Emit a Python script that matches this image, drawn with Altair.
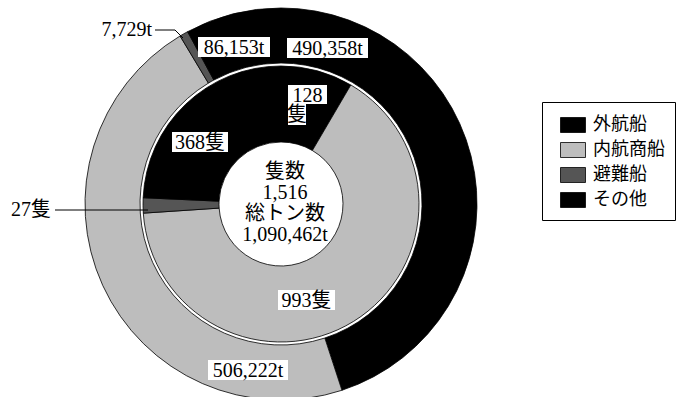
import altair as alt
import pandas as pd

# ---- data ----
categories = ["外航船", "内航商船", "避難船", "その他"]
ship_counts = [128, 993, 27, 368]          # 隻数 (inner ring)
tonnage = [490358, 506222, 7729, 86153]    # 総トン数 (outer ring)
colors = ["#000000", "#bdbdbd", "#555555", "#000000"]

total_ships = sum(ship_counts)
total_tons = sum(tonnage)

FONT = "Liberation Serif, Noto Sans CJK JP"
CX, CY = 281, 204

base = pd.DataFrame({
    "category": categories,
    "count": ship_counts,
    "tonnage": tonnage,
    "order": list(range(len(categories))),
})

color = alt.Color(
    "category:N",
    scale=alt.Scale(domain=categories, range=colors),
    legend=alt.Legend(
        title=None, orient="none", legendX=542, legendY=102,
        symbolType="M-1,-0.6H1V0.6H-1Z", symbolSize=625,
        symbolStrokeColor="black", symbolStrokeWidth=0.8, symbolOpacity=1,
        symbolOffset=8, labelFont=FONT, labelFontSize=18, labelColor="black",
        labelOffset=7, rowPadding=2, padding=10,
        strokeColor="black", fillColor="white",
    ),
)

outer = alt.Chart(base).mark_arc(radius=196, radius2=141, stroke="black", strokeWidth=0.8).encode(
    theta=alt.Theta("tonnage:Q", stack=True),
    color=color,
    order=alt.Order("order:Q"),
    x=alt.value(CX), y=alt.value(CY),
)
inner = alt.Chart(base).mark_arc(radius=138, radius2=62, stroke="black", strokeWidth=0.8).encode(
    theta=alt.Theta("count:Q", stack=True),
    color=alt.Color("category:N", scale=alt.Scale(domain=categories, range=colors), legend=None),
    order=alt.Order("order:Q"),
    x=alt.value(CX), y=alt.value(CY),
)

# ---- labels with white boxes (layout) ----
t = dict(zip(categories, tonnage))
c = dict(zip(categories, ship_counts))
boxed = pd.DataFrame([
    {"text": f"{t['その他']:,}t", "x": 198, "x2": 270, "y": 37, "y2": 57},
    {"text": f"{t['外航船']:,}t", "x": 287, "x2": 368, "y": 38, "y2": 58},
    {"text": f"{c['外航船']}", "x": 288, "x2": 327, "y": 85, "y2": 104},
    {"text": "隻", "x": 288, "x2": 306, "y": 103, "y2": 125},
    {"text": f"{c['その他']}隻", "x": 172, "x2": 228, "y": 132, "y2": 152},
    {"text": f"{c['内航商船']}隻", "x": 278, "x2": 335, "y": 290, "y2": 310},
    {"text": f"{t['内航商船']:,}t", "x": 208, "x2": 288, "y": 360, "y2": 380},
])
boxed["cx"] = (boxed["x"] + boxed["x2"]) / 2
boxed["cy"] = (boxed["y"] + boxed["y2"]) / 2 + 1

boxes = alt.Chart(boxed).mark_rect(fill="white").encode(
    x=alt.X("x:Q", scale=None), x2="x2:Q",
    y=alt.Y("y:Q", scale=None), y2="y2:Q",
)
box_text = alt.Chart(boxed).mark_text(font=FONT, fontSize=20, color="black", baseline="middle").encode(
    x=alt.X("cx:Q", scale=None), y=alt.Y("cy:Q", scale=None), text="text:N",
)

# leader-line labels
lead = pd.DataFrame([
    {"text": f"{t['避難船']:,}t", "x": 152, "y": 30},
    {"text": f"{c['避難船']}隻", "x": 51, "y": 210},
])
lead_text = alt.Chart(lead).mark_text(font=FONT, fontSize=20, color="black", align="right", baseline="middle").encode(
    x=alt.X("x:Q", scale=None), y=alt.Y("y:Q", scale=None), text="text:N",
)
lines = pd.DataFrame([
    {"x": 155, "y": 30, "x2": 175, "y2": 30},
    {"x": 175, "y": 30, "x2": 183, "y2": 38},
    {"x": 55, "y": 210, "x2": 148, "y2": 210},
])
rules = alt.Chart(lines).mark_rule(color="black", strokeWidth=1).encode(
    x=alt.X("x:Q", scale=None), x2="x2:Q",
    y=alt.Y("y:Q", scale=None), y2="y2:Q",
)

# centre text
centre = pd.DataFrame({
    "text": ["隻数", f"{total_ships:,}", "総トン数", f"{total_tons:,}t"],
    "y": [172, 193, 214, 235],
})
centre_text = alt.Chart(centre).mark_text(font=FONT, fontSize=20, color="black", baseline="middle").encode(
    x=alt.value(285), y=alt.Y("y:Q", scale=None), text="text:N",
)

chart = alt.layer(
    outer, inner, rules, boxes, box_text, lead_text, centre_text
).resolve_scale(theta="independent").properties(
    width=676, height=397, padding=0, autosize="none"
).configure_view(stroke=None)

chart.save("out.html", embed_options={"renderer": "svg", "actions": False})
